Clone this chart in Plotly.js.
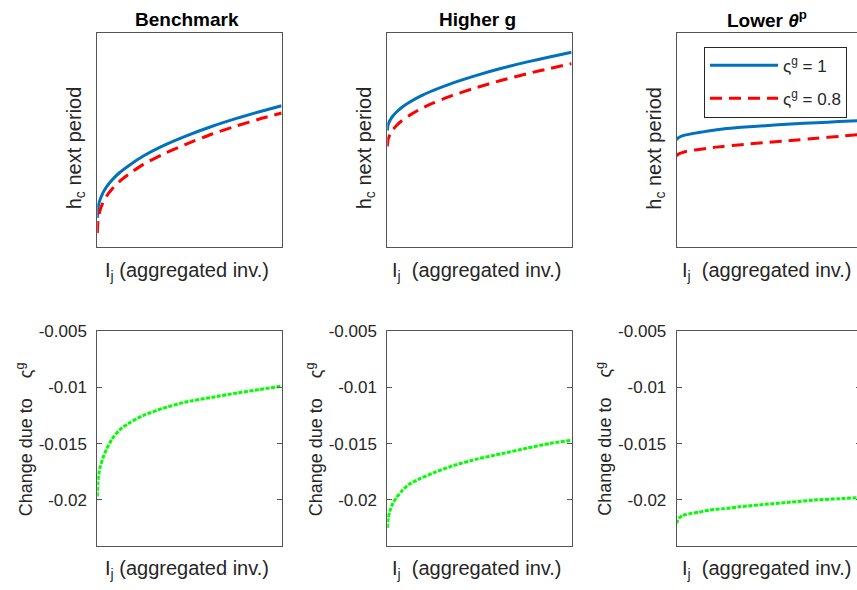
<!DOCTYPE html>
<html>
<head>
<meta charset="utf-8">
<script src="https://cdn.plot.ly/plotly-3.0.1.min.js"></script>
<style>
  html, body { margin: 0; padding: 0; overflow: hidden; background: #fff; }
  #plot { width: 900px; height: 590px; }
</style>
</head>
<body>
<div id="plot"></div>
<script>
// ---- data (x has no ticks, normalised 0..1) ----
const invest = [0, 0.005, 0.014, 0.03, 0.05, 0.08, 0.12, 0.18, 0.25, 0.35, 0.48, 0.62, 0.76, 0.88, 1];

// Top row: h_c next period (no tick labels, normalised units)
const benchS1  = [0.136, 0.190, 0.219, 0.252, 0.281, 0.313, 0.347, 0.386, 0.425, 0.470, 0.518, 0.563, 0.602, 0.632, 0.660];
const benchS08 = [0.065, 0.132, 0.169, 0.206, 0.237, 0.271, 0.306, 0.346, 0.386, 0.431, 0.480, 0.527, 0.567, 0.598, 0.626];
const highS1   = [0.544, 0.573, 0.591, 0.612, 0.631, 0.653, 0.676, 0.705, 0.732, 0.765, 0.801, 0.835, 0.865, 0.888, 0.910];
const highS08  = [0.470, 0.505, 0.525, 0.548, 0.568, 0.591, 0.615, 0.645, 0.673, 0.707, 0.744, 0.779, 0.810, 0.834, 0.857];
const lowS1    = [0.500, 0.508, 0.513, 0.519, 0.524, 0.529, 0.535, 0.543, 0.551, 0.559, 0.567, 0.575, 0.581, 0.586, 0.591];
const lowS08   = [0.424, 0.431, 0.436, 0.441, 0.446, 0.451, 0.456, 0.463, 0.470, 0.478, 0.488, 0.498, 0.508, 0.517, 0.526];

// Bottom row: change due to varsigma^g
const benchDiff = [-0.0197, -0.0181, -0.0172, -0.0163, -0.0155, -0.0146, -0.0138, -0.0131, -0.0125, -0.0119, -0.0113, -0.0109, -0.0105, -0.0102, -0.0099];
const highDiff  = [-0.0225, -0.0216, -0.0210, -0.0203, -0.0198, -0.0192, -0.0186, -0.0181, -0.0176, -0.0170, -0.0164, -0.0159, -0.0154, -0.0150, -0.0147];
const lowDiff   = [-0.0221, -0.0218, -0.0216, -0.0214, -0.0213, -0.0212, -0.0211, -0.0209, -0.0208, -0.0206, -0.0204, -0.0202, -0.0200, -0.0199, -0.0198];

const panelTitles = ['<b>Benchmark</b>', '<b>Higher g</b>', '<b>Lower <i>θ</i><sup>p</sup></b>'];
const seriesNames = ['ς<sup>g</sup> = 1', 'ς<sup>g</sup> = 0.8'];
const diffTickVals = [-0.02, -0.015, -0.01, -0.005];
const diffTickText = ['-0.02', '-0.015', '-0.01', '-0.005'];
const xLabels = ['I<sub>j</sub> (aggregated inv.)', 'I<sub>j</sub>\u00a0\u00a0(aggregated inv.)', 'I<sub>j</sub>\u00a0\u00a0(aggregated inv.)'];
const topYLabel = 'h<sub>c</sub> next period';
const botYLabel = 'Change due to\u00a0\u00a0\u00a0\u00a0ς<sup>g</sup>';

// ---- styling ----
const W = 900, H = 590;
const FONT = 'Liberation Sans, Arial, Helvetica, sans-serif';
const BLUE = '#0072BD', RED = '#FF0000', GREEN = '#00FF00';
const AXC = '#555555';

const colLeft = [97.3, 387.3, 676.7];
const colWidth = 184.3;
const topRow = [33, 247];
const botRow = [331, 546];

const px2x = p => p / W;
const px2y = p => 1 - p / H;

const tops = [[benchS1, benchS08], [highS1, highS08], [lowS1, lowS08]];
const diffs = [benchDiff, highDiff, lowDiff];

const traces = [];
for (let c = 0; c < 3; c++) {
  const ax = c === 0 ? '' : String(c + 1);
  const legendHere = c === 2;
  traces.push({
    x: invest, y: tops[c][0], xaxis: 'x' + ax, yaxis: 'y' + ax,
    type: 'scatter', mode: 'lines', name: seriesNames[0],
    line: {color: BLUE, width: 3, shape: 'spline', smoothing: 0.6},
    showlegend: legendHere, legendgroup: 'g1'
  });
  traces.push({
    x: invest, y: tops[c][1], xaxis: 'x' + ax, yaxis: 'y' + ax,
    type: 'scatter', mode: 'lines', name: seriesNames[1],
    line: {color: RED, width: 3, dash: '12px,7px', shape: 'spline', smoothing: 0.6},
    showlegend: legendHere, legendgroup: 'g2'
  });
  const bx = String(c + 4);
  traces.push({
    x: invest, y: diffs[c], xaxis: 'x' + bx, yaxis: 'y' + bx,
    type: 'scatter', mode: 'lines', name: 'diff',
    line: {color: GREEN, width: 3, dash: '4px,1.5px', shape: 'spline', smoothing: 0.6},
    showlegend: false
  });
}

const layout = {
  width: W, height: H,
  margin: {l: 0, r: 0, t: 0, b: 0},
  paper_bgcolor: '#ffffff', plot_bgcolor: '#ffffff',
  font: {family: FONT, size: 17, color: '#262626'},
  showlegend: true,
  legend: {
    x: px2x(704), y: px2y(46.7), xanchor: 'left', yanchor: 'top',
    bgcolor: '#ffffff', bordercolor: '#262626', borderwidth: 1,
    font: {family: FONT, size: 17, color: '#262626'},
    itemwidth: 68, traceorder: 'grouped', tracegroupgap: 8
  },
  annotations: []
};

for (let c = 0; c < 3; c++) {
  const L = colLeft[c], R = L + colWidth;
  const xd = [px2x(L), px2x(R)];
  const topAx = c === 0 ? '' : String(c + 1);
  const botAx = String(c + 4);
  const baseX = {
    domain: xd, range: [0, 1], showline: true, mirror: true, linecolor: AXC, linewidth: 1,
    showgrid: false, zeroline: false, showticklabels: false, ticks: '', fixedrange: true
  };
  layout['xaxis' + topAx] = Object.assign({}, baseX, {anchor: 'y' + topAx});
  layout['yaxis' + topAx] = {
    domain: [px2y(topRow[1]), px2y(topRow[0])], range: [0, 1], anchor: 'x' + topAx,
    showline: true, mirror: true, linecolor: AXC, linewidth: 1,
    showgrid: false, zeroline: false, showticklabels: false, ticks: ''
  };
  layout['xaxis' + botAx] = Object.assign({}, baseX, {anchor: 'y' + botAx});
  layout['yaxis' + botAx] = {
    domain: [px2y(botRow[1]), px2y(botRow[0])], range: [-0.0241, -0.005], anchor: 'x' + botAx,
    showline: true, mirror: 'ticks', linecolor: AXC, linewidth: 1,
    showgrid: false, zeroline: false, ticks: 'inside', ticklen: 5, tickcolor: AXC, tickwidth: 1,
    tickvals: diffTickVals, ticktext: diffTickText, ticklabelstandoff: 6,
    tickfont: {family: FONT, size: 17, color: '#262626'}
  };

  const cx = (L + R) / 2;
  layout.annotations.push({
    text: panelTitles[c], xref: 'paper', yref: 'paper',
    x: px2x(cx - 2), y: px2y(19), xanchor: 'center', yanchor: 'middle', showarrow: false,
    font: {family: FONT, size: 19, color: '#000000'}
  });
  layout.annotations.push({
    text: xLabels[c], xref: 'paper', yref: 'paper',
    x: px2x(cx - 2), y: px2y(271), xanchor: 'center', yanchor: 'middle', showarrow: false,
    font: {family: FONT, size: 20, color: '#262626'}
  });
  layout.annotations.push({
    text: xLabels[c], xref: 'paper', yref: 'paper',
    x: px2x(cx - 2), y: px2y(569), xanchor: 'center', yanchor: 'middle', showarrow: false,
    font: {family: FONT, size: 20, color: '#262626'}
  });
  layout.annotations.push({
    text: topYLabel, xref: 'paper', yref: 'paper', textangle: -90,
    x: px2x(L - 22), y: px2y(148), xanchor: 'center', yanchor: 'middle', showarrow: false,
    font: {family: FONT, size: 20, color: '#262626'}
  });
  layout.annotations.push({
    text: botYLabel, xref: 'paper', yref: 'paper', textangle: -90,
    x: px2x(L - 73), y: px2y(439), xanchor: 'center', yanchor: 'middle', showarrow: false,
    font: {family: FONT, size: 18, color: '#262626'}
  });
}

Plotly.newPlot('plot', traces, layout, {staticPlot: true, displayModeBar: false});
</script>
</body>
</html>
